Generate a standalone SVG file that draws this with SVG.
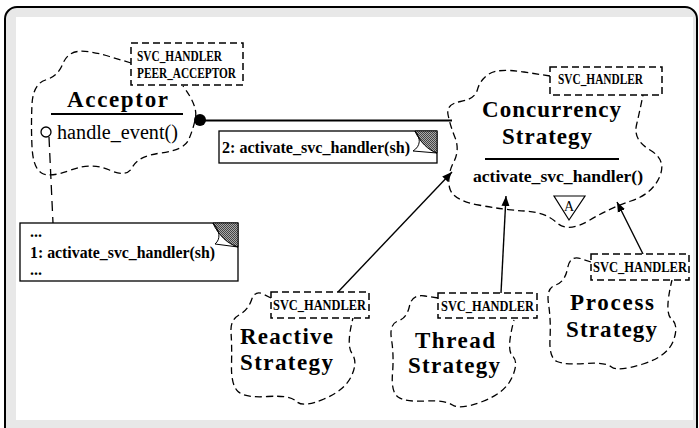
<svg xmlns="http://www.w3.org/2000/svg" width="699" height="428" viewBox="0 0 699 428">
<style>
.cloud{fill:none;stroke:#000;stroke-width:1.3;stroke-dasharray:7 4}
.param{fill:#fff;stroke:#000;stroke-width:1.5;stroke-dasharray:7 4}
.ptxt{font-family:"Liberation Serif",serif;font-weight:bold;font-size:14px}
.title{font-family:"Liberation Serif",serif;font-weight:bold;font-size:23px}
.note{fill:#fff;stroke:#000;stroke-width:1.3}
.ntxt{font-family:"Liberation Serif",serif;font-weight:bold;font-size:16px}
.ear{stroke:#000;stroke-width:0.8}
.flap{fill:#fff;stroke:#000;stroke-width:1}
.arrow{stroke:#000;stroke-width:1.4;fill:none}
</style>
<defs>
<marker id="ah" viewBox="0 0 10 10" refX="10" refY="5" markerWidth="10" markerHeight="10" markerUnits="userSpaceOnUse" orient="auto">
<path d="M0,1 L10,5 L0,9 Z" fill="#000"/>
</marker>
<pattern id="hatch" width="2" height="2" patternUnits="userSpaceOnUse">
<rect width="2" height="2" fill="#aaa"/>
<rect width="1" height="1" fill="#444"/>
<rect x="1" y="1" width="1" height="1" fill="#444"/>
</pattern>
</defs>
<rect x="5" y="7" width="692" height="432" rx="12" fill="#e8e8e8" stroke="#000" stroke-width="2"/>
<rect x="16" y="17" width="677" height="403" fill="#fff"/>

<g id="connectors">
<line x1="200" y1="120.5" x2="452" y2="120.5" stroke="#000" stroke-width="2"/>
<circle cx="200" cy="120" r="6" fill="#000"/>
<line x1="49" y1="137" x2="53" y2="223" stroke="#000" stroke-width="1.3" stroke-dasharray="10 6"/>
<line class="arrow" x1="338" y1="292" x2="452" y2="172" marker-end="url(#ah)"/>
<line class="arrow" x1="501" y1="293" x2="506" y2="196" marker-end="url(#ah)"/>
<line class="arrow" x1="643" y1="254" x2="617" y2="202" marker-end="url(#ah)"/>
</g>

<g id="acceptor">
<path class="cloud" d="M131,63 L109.5,56.5 Q88,50 77.5,51.5 Q67,53 62.5,64.5 Q58,76 45.5,80 Q33,84 32,104.5 Q31,125 32,146.5 Q33,168 41.5,173 Q50,178 71,170 Q92,162 109.5,170 Q127,178 132.5,167 Q138,156 161,153 Q184,150 188.5,140 Q193,130 195.5,118 Q198,106 183,86"/>
<rect class="param" x="131" y="43" width="112" height="42"/>
<text class="ptxt" x="137" y="61" textLength="85" lengthAdjust="spacingAndGlyphs">SVC_HANDLER</text>
<text class="ptxt" x="137" y="78" textLength="99" lengthAdjust="spacingAndGlyphs">PEER_ACCEPTOR</text>
<text class="title" x="67" y="107" textLength="101" lengthAdjust="spacing">Acceptor</text>
<line x1="51" y1="114" x2="183" y2="114" stroke="#000" stroke-width="2"/>
<circle cx="46" cy="132" r="5" fill="#fff" stroke="#000" stroke-width="1.3"/>
<text x="57" y="139" font-family="Liberation Serif, serif" font-size="20" textLength="121" lengthAdjust="spacingAndGlyphs">handle_event()</text>
</g>

<g id="note2">
<rect class="note" x="219" y="131" width="218" height="32"/>
<path class="ear" d="M415,131 L437,131 L437,153 C428,150 420,142 415,131 Z" fill="url(#hatch)"/>
<path class="flap" d="M415,131 C421,138 421,146 413,151 L437,153 C428,150 420,142 415,131 Z"/>
<text class="ntxt" x="222" y="153" textLength="188" lengthAdjust="spacingAndGlyphs">2:  activate_svc_handler(sh)</text>
</g>

<g id="note1">
<rect class="note" x="20" y="223" width="218" height="58"/>
<path class="ear" d="M213,223 L238,223 L238,247 C228,244 219,236 213,223 Z" fill="url(#hatch)"/>
<path class="flap" d="M213,223 C220,231 221,239 215,244 L238,247 C228,244 219,236 213,223 Z"/>
<text class="ntxt" x="30" y="237">...</text>
<text class="ntxt" x="30" y="258" textLength="185" lengthAdjust="spacingAndGlyphs">1:  activate_svc_handler(sh)</text>
<text class="ntxt" x="30" y="275">...</text>
</g>

<g id="concurrency">
<path class="cloud" d="M550,76 L524,72 Q498,68 489,74 Q480,80 477.5,89.5 Q475,99 460.5,101.5 Q446,104 448,114.5 Q450,125 455,137.5 Q460,150 453.5,162.5 Q447,175 449.5,187.5 Q452,200 478.5,205 Q505,210 525,211 Q545,212 556.5,222.5 Q568,233 589,220.5 Q610,208 631,201 Q652,194 659.5,177 Q667,160 650,150 Q633,140 636.5,125 Q640,110 643,95"/>
<rect class="param" x="550" y="67" width="112" height="28"/>
<text class="ptxt" x="558" y="84" textLength="85" lengthAdjust="spacingAndGlyphs">SVC_HANDLER</text>
<text class="title" x="482" y="117" font-size="24" textLength="139" lengthAdjust="spacing">Concurrency</text>
<text class="title" x="502" y="144" font-size="24" textLength="90" lengthAdjust="spacing">Strategy</text>
<line x1="485" y1="159" x2="619" y2="159" stroke="#000" stroke-width="2"/>
<text x="473" y="182" font-family="Liberation Serif, serif" font-weight="bold" font-size="17" textLength="170" lengthAdjust="spacingAndGlyphs">activate_svc_handler()</text>
<path d="M554,196 L585,196 L569,220 Z" fill="#fff" stroke="#000" stroke-width="1.2"/>
<text x="569" y="211" font-family="Liberation Serif, serif" font-size="14" text-anchor="middle">A</text>
</g>

<g id="reactive">
<path class="cloud" d="M271,298 L263,294 Q255,290 251.5,300 Q248,310 239,315 Q230,320 231,332.5 Q232,345 231.5,365 Q231,385 238,391.5 Q245,398 267.5,396.5 Q290,395 296.5,401.5 Q303,408 324,399 Q345,390 351.5,376 Q358,362 352,353.5 Q346,345 353,318"/>
<rect class="param" x="271" y="292" width="98" height="26"/>
<text class="ptxt" x="273" y="310" font-size="13" textLength="93" lengthAdjust="spacingAndGlyphs">SVC_HANDLER</text>
<text class="title" x="240" y="344" textLength="93" lengthAdjust="spacing">Reactive</text>
<text class="title" x="240" y="370" textLength="93" lengthAdjust="spacing">Strategy</text>
</g>

<g id="thread">
<path class="cloud" d="M438,298 L425,296 Q412,294 409.5,306 Q407,318 398,321 Q389,324 391.5,339.5 Q394,355 392.5,373.5 Q391,392 398,397 Q405,402 425,401 Q445,400 452.5,405 Q460,410 482.5,401.5 Q505,393 512,377.5 Q519,362 512.5,356 Q506,350 514,320"/>
<rect class="param" x="438" y="293" width="99" height="25"/>
<text class="ptxt" x="441" y="311" font-size="13" textLength="93" lengthAdjust="spacingAndGlyphs">SVC_HANDLER</text>
<text class="title" x="415" y="348" textLength="80" lengthAdjust="spacing">Thread</text>
<text class="title" x="408" y="373" textLength="92" lengthAdjust="spacing">Strategy</text>
</g>

<g id="process">
<path class="cloud" d="M591,262 L580.5,258.5 Q570,255 567.5,268.5 Q565,282 555.5,285 Q546,288 548.5,304 Q551,320 550,339 Q549,358 557,361.5 Q565,365 585,363.5 Q605,362 611.5,367 Q618,372 643,364 Q668,356 673.5,340.5 Q679,325 671.5,319 Q664,313 672,280"/>
<rect class="param" x="591" y="254" width="98" height="26"/>
<text class="ptxt" x="593" y="272" font-size="13" textLength="94" lengthAdjust="spacingAndGlyphs">SVC_HANDLER</text>
<text class="title" x="570" y="310" textLength="84" lengthAdjust="spacing">Process</text>
<text class="title" x="566" y="337" textLength="91" lengthAdjust="spacing">Strategy</text>
</g>
</svg>
